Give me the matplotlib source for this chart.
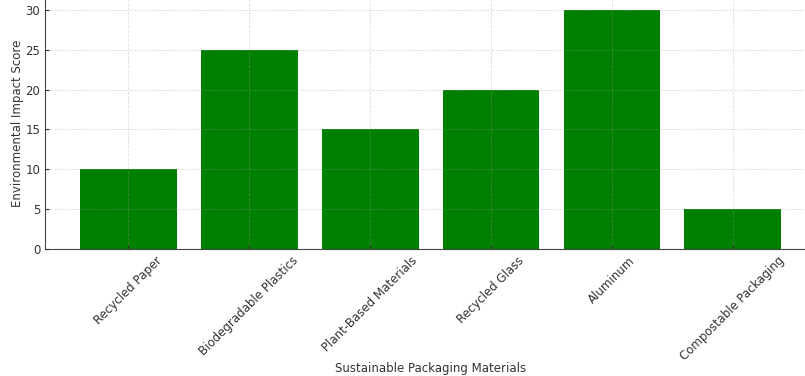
import matplotlib
matplotlib.use("Agg")
import matplotlib.pyplot as plt

materials = ["Recycled Paper", "Biodegradable Plastics", "Plant-Based Materials",
             "Recycled Glass", "Aluminum", "Compostable Packaging"]
scores = [10, 25, 15, 20, 30, 5]

fig = plt.figure(figsize=(8.05, 3.76), dpi=100)
ax = fig.add_axes([0.0559, 0.3378, 0.958, 0.668])

ax.bar(materials, scores, color="green", width=0.8)
ax.set_ylim(0, 31.5)
ax.set_xlim(-0.69, 5.69)
ax.set_yticks([0, 5, 10, 15, 20, 25, 30])

# faint dashed grid, drawn on top of the bars
ax.grid(True, linestyle="--", linewidth=0.6, color="#a0a0a0", alpha=0.35)
ax.set_axisbelow(False)

ax.tick_params(axis="both", direction="in", length=3, labelsize=8.5, colors="#333333")
plt.setp(ax.get_xticklabels(), rotation=45, ha="center")

ax.set_xlabel("Sustainable Packaging Materials", fontsize=8.5, color="#333333")
ax.xaxis.set_label_coords(0.5, -0.45)
ax.set_ylabel("Environmental Impact Score", fontsize=8.5, color="#333333", labelpad=1)

for s in ax.spines.values():
    s.set_color("#444444")

fig.savefig("out.png", dpi=100)
